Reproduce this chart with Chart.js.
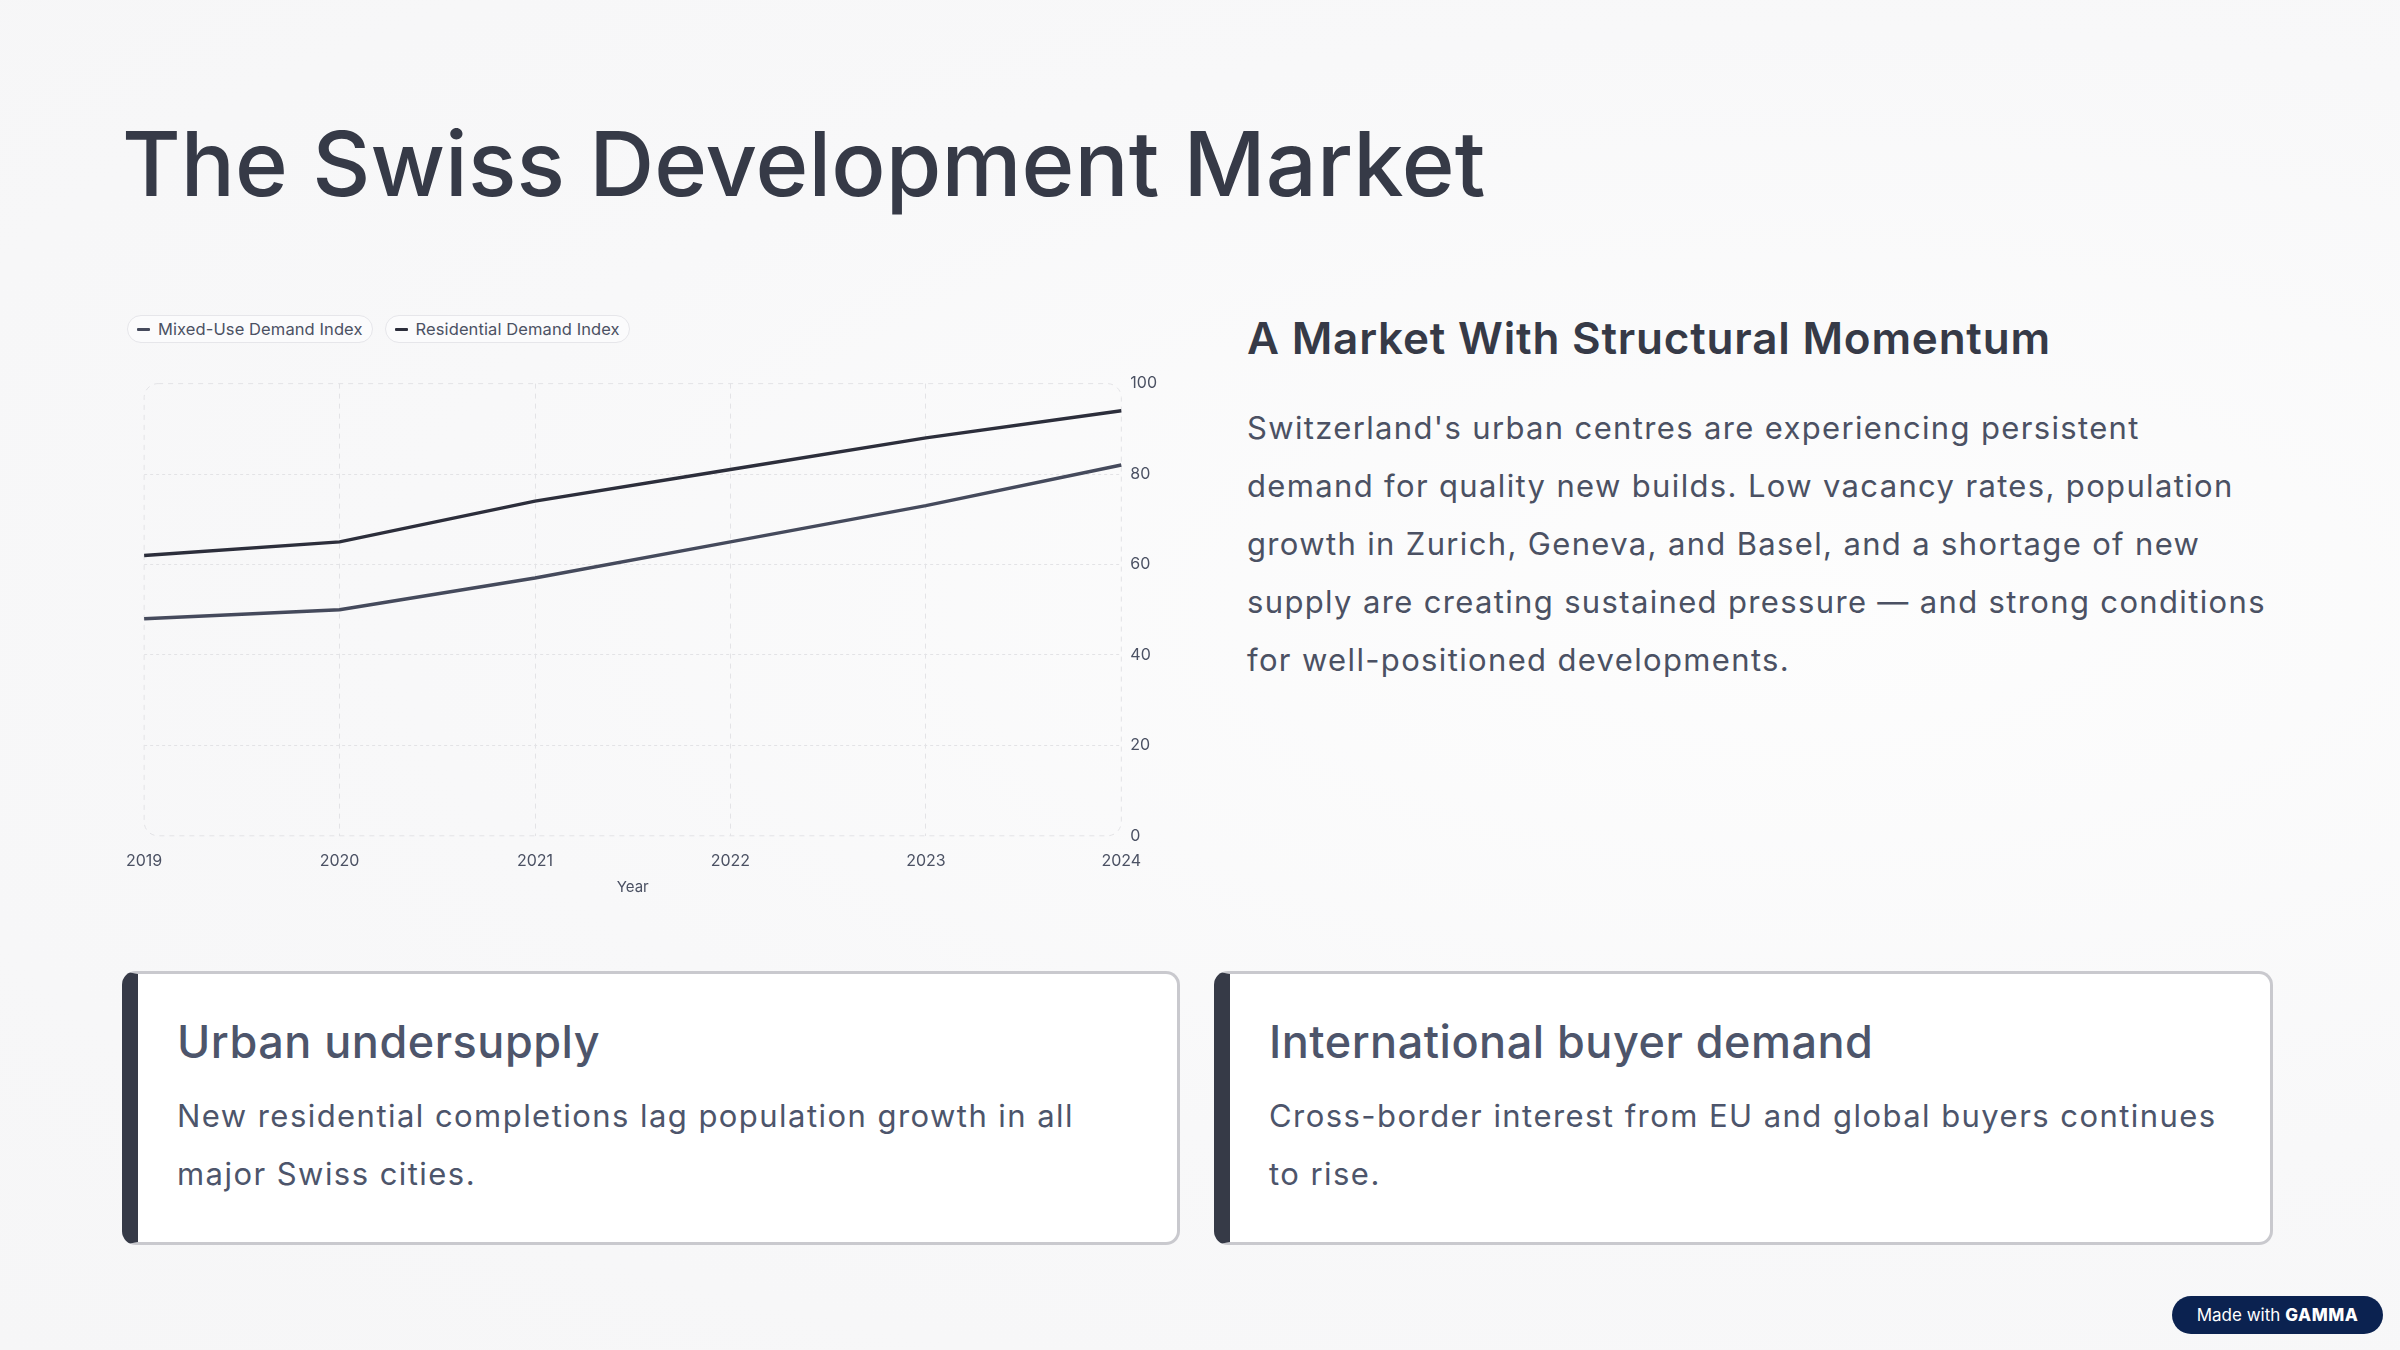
<!DOCTYPE html>
<html>
<head>
<meta charset="utf-8">
<script src="https://cdn.jsdelivr.net/npm/chart.js@4.4.1/dist/chart.umd.min.js"></script>
<style>
  html, body { margin: 0; padding: 0; }
  body {
    width: 2400px; height: 1350px; position: relative; overflow: hidden;
    font-family: Inter, "Noto Sans", sans-serif;
    background: radial-gradient(ellipse at 75% 45%, #fdfdfd 0%, #f8f8f9 55%, #f6f6f7 100%);
    color: #363a47;
  }
  h1 {
    position: absolute; left: 122px; top: 104px; margin: 0;
    font-size: 90px; font-weight: 500; letter-spacing: 0.1px; color: #363a47;
    line-height: 120px;
  }
  #legend { position: absolute; left: 127px; top: 315px; display: flex; gap: 12px; }
  .pill {
    display: flex; align-items: center; height: 26px; padding: 0 9px 0 9px;
    border: 1.5px solid #e6e6ea; border-radius: 15px; background: #fbfbfc;
    font-size: 16.5px; letter-spacing: 0.1px; color: #4b5163;
  }
  .pill i { display: inline-block; width: 13px; height: 3px; margin-right: 8px; border-radius: 1px; }
  #chartBox { position: absolute; left: 110px; top: 365px; width: 1060px; height: 535px; }
  #side { position: absolute; left: 1247px; top: 305px; width: 1100px; }
  #side h2 { margin: 0; font-size: 44px; font-weight: 600; color: #363a47; line-height: 66px; letter-spacing: 0.8px; }
  #side p { margin: 28px 0 0 0; font-size: 31px; line-height: 58px; color: #4b5163; letter-spacing: 1.35px; white-space: nowrap; }
  .card {
    position: absolute; top: 971px; height: 274px; width: 1058px;
    background: #ffffff; border: 3px solid #c9c9ce; border-left: 16px solid #363a47;
    border-radius: 14px; box-sizing: border-box;
  }
  .card h3 { margin: 0; position: absolute; left: 39px; top: 38px; font-size: 45px; font-weight: 500; color: #4d556b; line-height: 60px; letter-spacing: 0.5px; }
  .card p { margin: 0; position: absolute; left: 39px; top: 113px; font-size: 31px; line-height: 58px; color: #4d556b; letter-spacing: 1.45px; white-space: nowrap; }
  #badge {
    position: absolute; left: 2172px; top: 1296px; width: 211px; height: 38px;
    background: #0b2250; border-radius: 19px; color: #fff; font-size: 17px;
    display: flex; align-items: center; justify-content: center;
  }
  #badge b { font-weight: 800; letter-spacing: 0.5px; margin-left: 5px; }
</style>
</head>
<body>
<h1>The Swiss Development Market</h1>
<div id="legend"></div>
<div id="chartBox"><canvas id="myChart"></canvas></div>

<div id="side">
  <h2>A Market With Structural Momentum</h2>
  <p>Switzerland's urban centres are experiencing persistent<br>demand for quality new builds. Low vacancy rates, population<br>growth in Zurich, Geneva, and Basel, and a shortage of new<br>supply are creating sustained pressure — and strong conditions<br>for well-positioned developments.</p>
</div>

<div class="card" style="left:122px;">
  <h3>Urban undersupply</h3>
  <p>New residential completions lag population growth in all<br>major Swiss cities.</p>
</div>
<div class="card" style="left:1214px; width:1059px;">
  <h3>International buyer demand</h3>
  <p>Cross-border interest from EU and global buyers continues<br>to rise.</p>
</div>

<div id="badge">Made with <b>GAMMA</b></div>

<script>
// data
var years = ['2019', '2020', '2021', '2022', '2023', '2024'];
var mixedUse = [48, 50, 57, 65, 73, 82];
var residential = [62, 65, 74, 81, 88, 94];
var seriesNames = ['Mixed-Use Demand Index', 'Residential Demand Index'];
var seriesColors = ['#454a5c', '#2c2e3b'];
var yTicks = [0, 20, 40, 60, 80, 100];

var gridColor = '#e3e3e6';

// rounded dashed frame round the plot area
var frame = {
  id: 'frame',
  beforeDatasetsDraw: function (chart) {
    var a = chart.chartArea, c = chart.ctx, r = 14;
    c.save();
    c.strokeStyle = gridColor;
    c.lineWidth = 1;
    c.setLineDash([5, 5]);
    c.beginPath();
    c.roundRect(a.left, a.top, a.right - a.left, a.bottom - a.top, r);
    c.stroke();
    c.restore();
  }
};

function BuildChart() {
  var ctx = document.getElementById('myChart').getContext('2d');
  var datasets = [mixedUse, residential].map(function (vals, i) {
    return {
      label: seriesNames[i],
      data: vals,
      borderColor: seriesColors[i],
      backgroundColor: seriesColors[i],
      borderWidth: 3.4,
      pointRadius: 0,
      tension: 0
    };
  });
  return new Chart(ctx, {
    type: 'line',
    data: { labels: years, datasets: datasets },
    options: {
      responsive: true,
      maintainAspectRatio: false,
      animation: false,
      layout: { padding: { left: 32, top: 12, right: 4, bottom: 4 } },
      plugins: { legend: { display: false }, tooltip: { enabled: false } },
      scales: {
        x: {
          grid: {
            drawTicks: false,
            color: function (c) { return (c.index === 0 || c.index === years.length - 1) ? 'transparent' : gridColor; }
          },
          border: { display: false, dash: [5, 5] },
          ticks: { padding: 16, color: '#4b5163', font: { family: 'Inter', size: 16 } },
          title: { display: true, text: 'Year', color: '#4b5163', font: { family: 'Inter', size: 15 }, padding: { top: -9, bottom: 0 } }
        },
        y: {
          position: 'right',
          min: 0, max: 100,
          afterBuildTicks: function (s) { s.ticks = yTicks.map(function (v) { return { value: v }; }); },
          grid: {
            drawTicks: false,
            color: function (c) { return (c.tick.value === 0 || c.tick.value === 100) ? 'transparent' : gridColor; }
          },
          border: { display: false, dash: [3, 3] },
          ticks: { padding: 9, color: '#4b5163', font: { family: 'Inter', size: 16 } }
        }
      }
    },
    plugins: [frame]
  });
}

var chart = BuildChart();

// html legend built from the same arrays
var legend = document.getElementById('legend');
seriesNames.forEach(function (name, i) {
  var p = document.createElement('div');
  p.className = 'pill';
  p.innerHTML = '<i style="background:' + seriesColors[i] + '"></i>' + name;
  legend.appendChild(p);
});
</script>
</body>
</html>
